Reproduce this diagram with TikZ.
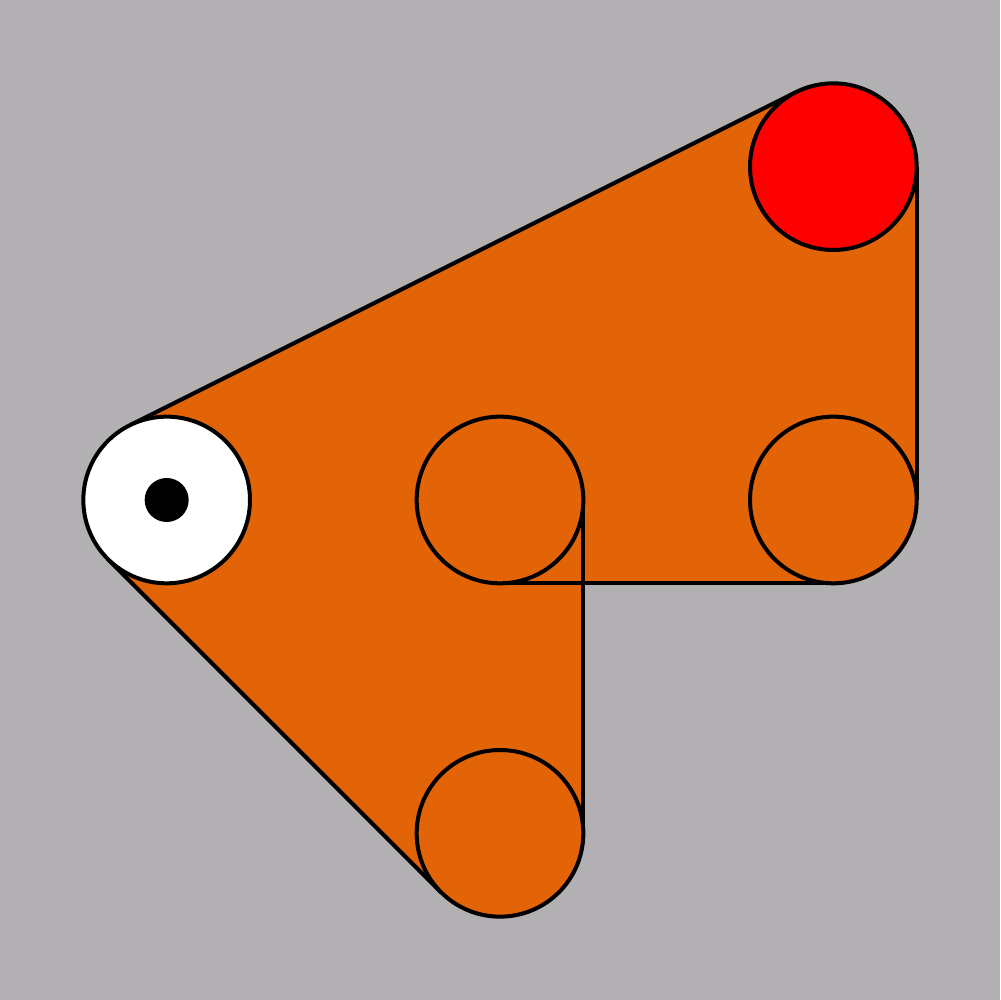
\documentclass[tikz,border=0pt]{standalone}
\usetikzlibrary{shapes.geometric}
\definecolor{backgray}{RGB}{178,176,179}
\definecolor{linkorange}{RGB}{227,99,7}
\pgfdeclarelayer{back}
\pgfsetlayers{back,main}
\tikzset{
  joint/.style={circle, draw=black, fill=linkorange, inner sep=0pt, outer sep=0pt, minimum size=1.6667cm},
  pin/.style={circle, fill=black, inner sep=0pt, outer sep=0pt, minimum size=0.44cm}
}
\begin{document}
\begin{tikzpicture}[x=1.6667cm, y=1.6667cm, line width=0.4mm]{
    \node [joint, fill=white] (L) at (1,3) {};
    \node [pin] (P) at (1,3) {};
    \node [joint] (M) at (3,3) {};
    \node [joint] (R) at (5,3) {};
    \node [joint, fill=red] (T) at (5,5) {};
    \node [joint] (B) at (3,1) {};
    \begin{pgfonlayer}{back}
    \begin{scope}[line width=0.4mm]
    \fill [backgray] (0,0) rectangle (6,6);
    \fill [linkorange] (L.116.57) -- (T.116.57) -- (T.east) -- (R.east) -- (R.south) -- (M.south) -- (L.south) -- cycle;
    \fill [linkorange] (L.225) -- (B.225) -- (B.east) -- (M.east) -- (M.north) -- (L.north) -- cycle;
    \path (L.116.57) edge (T.116.57);
    \path (T.east) edge (R.east);
    \path (R.south) edge (M.south);
    \path (M.east) edge (B.east);
    \path (L.225) edge (B.225);
    \end{scope}
    \end{pgfonlayer}
    }
\end{tikzpicture}
\end{document}
